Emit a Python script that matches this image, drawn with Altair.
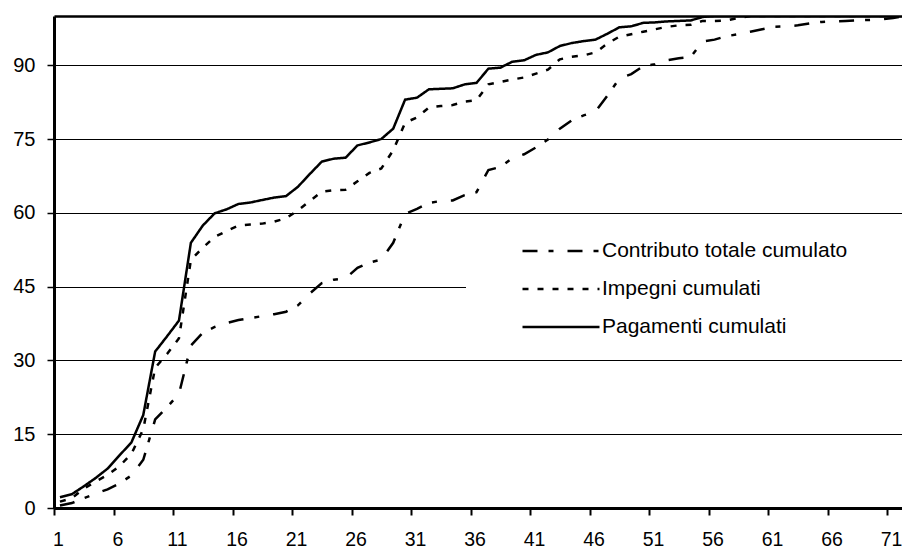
import altair as alt
import pandas as pd

# Periodi (1..72) e valori percentuali cumulati per ciascuna serie
periodi = list(range(1, 73))

contributo = [
    0.5, 1.0, 2.0, 2.9, 3.8, 5.0, 6.6, 9.8, 18.0, 20.5,
    23.2, 33.0, 35.6, 36.8, 37.6, 38.2, 38.6, 39.0, 39.4, 39.9,
    41.2, 43.6, 45.7, 46.4, 46.7, 48.8, 49.9, 50.5, 53.9, 59.8,
    60.8, 62.0, 62.4, 62.5, 63.6, 64.2, 68.7, 69.3, 71.1, 71.9,
    73.3, 74.9, 77.1, 78.8, 79.8, 80.6, 83.8, 87.3, 88.2, 89.8,
    90.2, 91.0, 91.4, 91.7, 94.8, 95.2, 95.9, 96.3, 96.8, 97.3,
    97.8, 97.9, 98.1, 98.5, 98.8, 98.9, 99.0, 99.1, 99.2, 99.3,
    99.6, 100.0,
]

impegni = [
    1.3, 2.0, 3.9, 5.4, 6.7, 8.5, 11.0, 16.0, 28.5, 31.3,
    34.5, 50.4, 52.9, 55.1, 56.3, 57.4, 57.6, 57.8, 58.2, 58.9,
    60.5, 62.4, 64.3, 64.6, 64.7, 66.4, 68.1, 69.0, 72.7, 78.3,
    79.4, 81.4, 81.7, 81.9, 82.6, 82.9, 86.1, 86.6, 87.1, 87.5,
    88.3, 89.1, 91.2, 91.7, 92.0, 92.6, 94.4, 95.8, 96.3, 96.8,
    97.3, 97.8, 98.1, 98.2, 99.0, 99.0, 99.1, 99.6, 100.0, 100.0,
    100.0, 100.0, 100.0, 100.0, 100.0, 100.0, 100.0, 100.0, 100.0, 100.0,
    100.0, 100.0,
]

pagamenti = [
    2.2, 2.8, 4.4, 6.1, 8.0, 10.7, 13.3, 18.9, 31.8, 34.9,
    38.1, 53.9, 57.4, 59.9, 60.7, 61.8, 62.1, 62.6, 63.1, 63.4,
    65.3, 67.9, 70.4, 71.0, 71.2, 73.7, 74.3, 75.0, 77.1, 83.0,
    83.4, 85.1, 85.2, 85.3, 86.1, 86.4, 89.3, 89.5, 90.7, 91.0,
    92.1, 92.6, 93.9, 94.5, 94.9, 95.2, 96.4, 97.7, 97.9, 98.6,
    98.7, 98.9, 99.0, 99.1, 99.8, 100.0, 100.0, 100.0, 100.0, 100.0,
    100.0, 100.0, 100.0, 100.0, 100.0, 100.0, 100.0, 100.0, 100.0, 100.0,
    100.0, 100.0,
]

serie = ["Contributo totale cumulato", "Impegni cumulati", "Pagamenti cumulati"]
tratteggi = [[15, 11, 5, 14], [6, 9], [1, 0]]

x_labels = list(range(1, 72, 5))
y_ticks = [0, 15, 30, 45, 60, 75, 90, 100]

rows = []
for nome, valori in zip(serie, [contributo, impegni, pagamenti]):
    for p, v in zip(periodi, valori):
        rows.append({"periodo": p, "valore": v, "serie": nome})
df = pd.DataFrame(rows)

FONT = "Liberation Sans"
PLOT_W = 848
X_MIN, X_MAX = 0.5, 71.75
half_step = PLOT_W / (X_MAX - X_MIN) / 2

LEGEND_X = 412

# the 100 line is drawn as a heavier gridline and acts as the top frame
is_top = "datum.value == 100"
# the 45 gridline stops where the legend panel begins
is_legend_row = "datum.value == 45"

chart = (
    alt.Chart(df)
    .mark_line(color="black", strokeWidth=2.5, strokeCap="butt", clip=True)
    .encode(
        x=alt.X(
            "periodo:Q",
            scale=alt.Scale(domain=[X_MIN, X_MAX], nice=False, zero=False),
            axis=alt.Axis(
                values=x_labels,
                title=None,
                grid=False,
                tickOffset=-half_step,
                labelOffset=half_step - 2,
                tickSize=7,
                tickWidth=2,
                tickColor="black",
                domainColor="black",
                domainWidth=3,
                labelFont=FONT,
                labelFontSize=19.5,
                labelColor="black",
                labelPadding=15,
                labelFlush=False,
                labelOverlap=False,
            ),
        ),
        y=alt.Y(
            "valore:Q",
            scale=alt.Scale(domain=[0, 100], nice=False),
            axis=alt.Axis(
                values=y_ticks,
                title=None,
                grid=True,
                gridColor="black",
                gridWidth={"condition": {"test": is_top, "value": 2.5}, "value": 1},
                gridDash={
                    "condition": {"test": is_legend_row, "value": [LEGEND_X, 2000]},
                    "value": [],
                },
                tickSize=7,
                tickWidth=1.5,
                tickColor="black",
                tickOpacity={"condition": {"test": is_top, "value": 0}, "value": 1},
                domainColor="black",
                domainWidth=3,
                labelFont=FONT,
                labelFontSize=20,
                labelColor="black",
                labelPadding=12,
                labelFlush=False,
                labelOverlap=False,
                labelExpr=f"{is_top} ? '' : datum.label",
            ),
        ),
        strokeDash=alt.StrokeDash(
            "serie:N",
            scale=alt.Scale(domain=serie, range=tratteggi),
            legend=alt.Legend(
                title=None,
                orient="none",
                legendX=LEGEND_X,
                legendY=207,
                padding=16,
                fillColor="white",
                symbolType="stroke",
                symbolSize=5929,
                symbolStrokeWidth=2.5,
                symbolStrokeColor="black",
                symbolOffset=39,
                labelOffset=1,
                clipHeight=24,
                rowPadding=14,
                labelFont=FONT,
                labelFontSize=21,
                labelColor="black",
                labelLimit=400,
            ),
        ),
    )
    .properties(
        width=PLOT_W,
        height=492,
        autosize="none",
        padding={"left": 54, "top": 16, "right": 0, "bottom": 44},
        background="white",
    )
    .configure_view(stroke=None)
)

chart.save("out.html", embed_options={"renderer": "svg", "actions": False})
